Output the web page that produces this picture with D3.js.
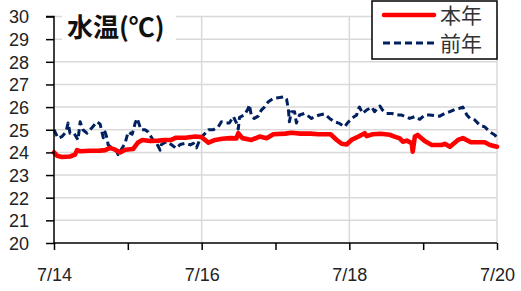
<!DOCTYPE html>
<html><head><meta charset="utf-8">
<script src="https://cdn.jsdelivr.net/npm/d3@7"></script>
<style>html,body{margin:0;padding:0;background:#fff;}svg{display:block;}</style>
</head><body>
<svg id="chart" width="521" height="291"></svg>
<script>
// hours since 7/14 00:00
const thisYearHours = [0,1,2.6,5.2,6.8,7.5,8.5,11.7,15,16.6,18.2,19.9,21.5,23.1,25.7,27.4,28.7,31.3,33.9,36.2,38.1,39.7,42.7,45.9,47.9,50.2,52.4,54.7,57.3,59.3,59.9,61.2,64.2,66.8,69.1,71.3,75.2,77.2,80.1,83.4,86,89.9,91.9,93.5,95.1,96.7,99,101,101.6,103.6,106.2,109.1,110.7,112.4,113.4,114.7,116.3,116.6,117.3,118.2,120.5,122.8,126.1,127,128.7,131.3,132.9,135.5,140,141.7,144];
const thisYearTemp = [24.0,23.85,23.8,23.82,23.9,24.1,24.05,24.07,24.08,24.1,24.2,24.12,24.0,24.12,24.15,24.45,24.55,24.5,24.52,24.55,24.55,24.65,24.65,24.7,24.68,24.43,24.55,24.6,24.63,24.62,24.85,24.63,24.55,24.7,24.63,24.8,24.83,24.87,24.83,24.83,24.8,24.8,24.55,24.38,24.35,24.55,24.7,24.85,24.72,24.8,24.82,24.78,24.7,24.62,24.47,24.52,24.4,24.03,24.7,24.77,24.5,24.33,24.33,24.38,24.25,24.55,24.63,24.45,24.45,24.33,24.25];
const lastYearHours = [0,1.3,2.6,3.9,4.6,5.2,6.5,7.8,8.5,9.4,10.7,12.4,14,15,16,16.6,17.3,17.6,18.9,20.5,20.8,21.5,23.1,24.1,25.4,26.4,27,27.4,28.3,29.6,30.6,32.2,33.2,34.5,34.9,36.5,38.1,39.7,41,42.7,44.3,45.3,46.3,47.6,49.2,50.2,51.8,53.4,54.4,56,57,58.3,59.3,59.9,60.3,61.9,63.2,63.5,64.2,65.1,66.4,67.4,68.4,69.7,71.3,73.3,74.9,75.6,76.2,76.5,77.2,78.2,78.8,79.8,81.4,82.7,83.7,84.7,86.3,87.9,89.6,91.2,92.8,94.5,95.4,96.7,98.4,98.7,99.3,100.3,101.6,103.3,104.2,105.9,106.8,108.1,109.8,111.4,113,114.7,115.6,117.3,118.9,120.5,122.1,123.8,125.4,127,128.7,130.3,131.9,132.9,134.2,135.2,136.8,138.4,140,141.7,143.3,144];
const lastYearTemp = [25.0,24.63,24.7,24.9,25.3,24.85,24.85,24.55,25.35,25.0,24.85,25.1,25.35,25.25,24.65,24.9,24.6,24.33,24.2,24.03,23.9,24.05,24.4,24.9,24.8,25.3,25.5,25.35,25.0,25.0,24.9,24.55,24.45,24.1,24.35,24.47,24.35,24.18,24.35,24.4,24.33,24.4,24.2,24.63,24.85,25.0,25.0,25.13,25.35,25.3,25.3,25.58,25.3,25.03,25.55,25.65,25.96,26.1,25.58,25.5,25.6,25.87,26.0,26.24,26.39,26.42,26.46,26.35,25.9,25.35,25.8,25.8,25.3,25.65,25.72,25.6,25.5,25.58,25.65,25.7,25.5,25.35,25.28,25.13,25.3,25.5,25.65,25.87,26.0,25.72,25.87,26.0,25.8,26.05,25.87,25.72,25.72,25.65,25.65,25.55,25.5,25.58,25.46,25.65,25.65,25.62,25.6,25.72,25.8,25.9,25.95,26.0,25.65,25.5,25.43,25.2,25.13,24.9,24.77,24.65];
const yTicks = [20,21,22,23,24,25,26,27,28,29,30];
const dayTicks = [0,24,48,72,96,120,144];
const dayLabels = {0:"7/14",48:"7/16",96:"7/18",144:"7/20"};
const seriesNames = ["本年","前年"];
const title = "水温(℃)";

const svg = d3.select("#chart");
const x = d3.scaleLinear().domain([0,144]).range([54,497]);
const y = d3.scaleLinear().domain([20,30]).range([243,16.5]);

// horizontal grid
svg.append("g").selectAll("line").data(yTicks.filter(d=>d>20)).join("line")
  .attr("x1",x(0)).attr("x2",x(144)).attr("y1",d=>y(d)).attr("y2",d=>y(d))
  .attr("stroke","#d9d9d9").attr("stroke-width",1.5);
// vertical grid
svg.append("g").selectAll("line").data([48,96,144]).join("line")
  .attr("x1",d=>x(d)).attr("x2",d=>x(d)).attr("y1",y(30)).attr("y2",y(20))
  .attr("stroke","#d9d9d9").attr("stroke-width",1.5);

const line = d3.line().x(d=>x(d[0])).y(d=>y(d[1]));
const lastData = lastYearHours.map((h,i)=>[h,lastYearTemp[i]]);
const thisData = thisYearHours.map((h,i)=>[h,thisYearTemp[i]]);

svg.append("path").datum(lastData).attr("d",line)
  .attr("fill","none").attr("stroke","#002060").attr("stroke-width",3)
  .attr("stroke-dasharray","7,4").attr("stroke-linejoin","round");
svg.append("path").datum(thisData).attr("d",line)
  .attr("fill","none").attr("stroke","#ff0000").attr("stroke-width",4.6)
  .attr("stroke-linejoin","round").attr("stroke-linecap","round");

// axes
const yAxis = d3.axisLeft(y).tickValues(yTicks).tickSize(8).tickPadding(17).tickFormat(d3.format("d"));
const gy = svg.append("g").attr("transform",`translate(${x(0)},0)`).call(yAxis);
gy.select(".domain").attr("stroke","#000").attr("stroke-width",1.5).attr("d",`M-8,${y(30)}H0V${y(20)}`);
gy.selectAll(".tick line").attr("stroke","#000").attr("stroke-width",1.5);
gy.selectAll(".tick text").attr("font-family","Liberation Sans, Arial, sans-serif").attr("font-size",18).attr("fill","#222").attr("dy","0.36em");

const xAxis = d3.axisBottom(x).tickValues(dayTicks).tickSize(7).tickPadding(18).tickFormat(d=>dayLabels[d]||"");
const gx = svg.append("g").attr("transform",`translate(0,${y(20)})`).call(xAxis);
gx.select(".domain").attr("stroke","#000").attr("stroke-width",1.5).attr("d",`M${x(0)},0H${x(144)}`);
gx.selectAll(".tick line").attr("stroke","#000").attr("stroke-width",1.5);
gx.selectAll(".tick text").attr("font-family","Liberation Sans, Arial, sans-serif").attr("font-size",18).attr("fill","#222");

// title
svg.append("rect").attr("x",62).attr("y",12).attr("width",114).attr("height",32).attr("fill","#fff");
svg.append("text").attr("x",67).attr("y",37).text(title)
  .attr("font-family","Noto Sans CJK JP, sans-serif").attr("font-weight","bold").attr("font-size",26).attr("fill","#111");

// legend
const lg = svg.append("g");
lg.append("rect").attr("x",372).attr("y",1).attr("width",125).attr("height",58)
  .attr("fill","#fff").attr("stroke","#000").attr("stroke-width",1.5);
lg.append("line").attr("x1",384).attr("x2",434).attr("y1",15).attr("y2",15)
  .attr("stroke","#ff0000").attr("stroke-width",4.6).attr("stroke-linecap","round");
lg.append("line").attr("x1",383).attr("x2",435).attr("y1",43).attr("y2",43)
  .attr("stroke","#002060").attr("stroke-width",3).attr("stroke-dasharray","7,4");
lg.selectAll("text").data(seriesNames).join("text")
  .attr("x",440).attr("y",(d,i)=>15+i*28).attr("dy","0.36em").text(d=>d)
  .attr("font-family","Noto Sans CJK JP, sans-serif").attr("font-size",21).attr("fill","#333");
</script>
</body></html>
